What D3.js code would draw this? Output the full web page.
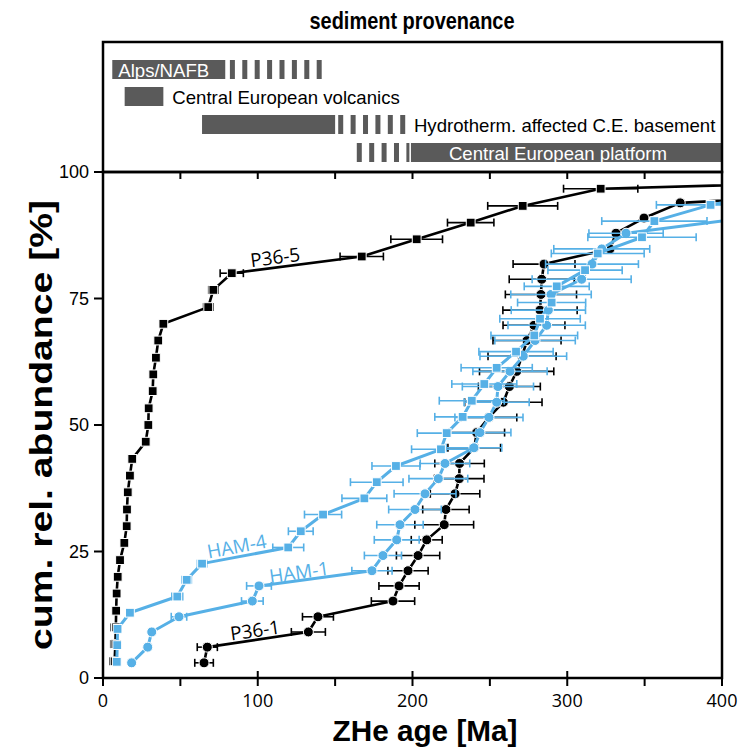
<!DOCTYPE html>
<html><head><meta charset="utf-8">
<script src="https://cdn.jsdelivr.net/npm/d3@7"></script>
<style>body{margin:0;background:#fff}</style>
</head><body>
<script>
// ---------- data ----------
const xTicks = [0, 100, 200, 300, 400];
const yTicks = [0, 25, 50, 75, 100];

// P36-5 (n=30)
const p365Pct = [3.3,6.7,10,13.3,16.7,20,23.3,26.7,30,33.3,36.7,40,43.3,46.7,50,53.3,56.7,60,63.3,66.7,70,73.3,76.7,80,83.3,86.7,90,93.3,96.7,100];
const p365Age = [7.5,8,8.3,8.5,8.8,9.5,11,13.8,15.3,15.5,16,17.4,18.9,27.6,29.3,29.5,32.1,32.5,34.2,35.7,39,68,71.3,83.2,167.2,202.7,237.6,271.2,321.6,720];
const p365Err = [3,3,3,0,0,0,0,0,0,0,0,0,0,0,0,0,0,0,0,0,0,3,3,7.5,14,16.7,15,22.6,24,0];

// HAM-4 (n=31)
const ham4Pct = [3.2,6.5,9.7,12.9,16.1,19.4,22.6,25.8,29.0,32.3,35.5,38.7,41.9,45.2,48.4,51.6,54.8,58.1,61.3,64.5,67.7,71.0,74.2,77.4,80.6,83.9,87.1,90.3,93.5,96.8,100];
const ham4Age = [8.9,9.2,9.4,17.4,48.0,54.1,64.0,119.7,127.8,142.2,168.9,176.9,189.3,218.4,222.1,232.4,238.3,246.4,254.4,266.9,278.7,282.4,289.9,293.2,311.5,319.7,348.3,356.3,392.6,450,600];
const ham4Err = [0,0,0,2,3.5,3,3,10,8,12,14.5,17,15.5,19,19,18,21,21,23,24,28,26,22,21,24,30,35,34,35,0,0];

// HAM-1 (n=33)
const ham1Pct = [3.0,6.1,9.1,12.1,15.2,18.2,21.2,24.2,27.3,30.3,33.3,36.4,39.4,42.4,45.5,48.5,51.5,54.5,57.6,60.6,63.6,66.7,69.7,72.7,75.8,78.8,81.8,84.8,87.9,90.9,93.9,97.0,100];
const ham1Age = [18.5,28.9,31.5,49.1,96.5,100.8,173.8,180.9,189.8,191.9,201.6,208.1,216.7,221.0,239.7,243.6,249.4,254.4,255.2,263.0,271.6,279.2,286.7,287.8,289.5,309.3,316.0,322.3,338.0,415,480,560,700];
const ham1Err = [0,0,0,5,7,8,13,12,14.5,15,17,20,19,16,18,20,22,21,23,24,28,26,25,24,26,32,30,31,24,0,0,0,0];

// P36-1 (n=33)
const p361Pct = [3.0,6.1,9.1,12.1,15.2,18.2,21.2,24.2,27.3,30.3,33.3,36.4,39.4,42.4,45.5,48.5,51.5,54.5,57.6,60.6,63.6,66.7,69.7,72.7,75.8,78.8,81.8,84.8,87.9,90.9,93.9,97.0,100];
const p361Age = [65.3,67.4,132.7,138.9,187.4,191.3,197.1,203.6,209.2,220.5,221.6,227.5,230.2,230.4,239.9,241.5,249.4,258.7,262.6,267.3,270.8,274.0,278.5,282.4,283.0,283.5,285.0,327.6,331.5,349.6,373.0,560,700];
const p361Err = [6,6.5,11,10,14,13,13,14,10,19,15,16,16,16,17,18,18,25,20,24,22,22,20,24,23,21,20,0,0,0,0,0,0];

// provenance bars (ages, Ma)
const provNames  = ["Alps/NAFB", "Central European volcanics", "Hydrotherm. affected C.E. basement", "Central European platform"];
const provSolid  = [[6, 79], [14, 39], [64, 150], [199, 400]];
const provDashed = [[82, 142], null, [152, 199], [164, 198]];

// ---------- drawing ----------
const W = 742, H = 747;
const x = d3.scaleLinear().domain([0, 400]).range([103, 722]);
const y = d3.scaleLinear().domain([0, 100]).range([678, 172]);
const BLUE = "#56B0E6";
const GRAY = "#5a5a5a";
const ARIAL = "'Liberation Sans', Arial, sans-serif";
const OPEN = "'Open Sans', 'DejaVu Sans', sans-serif";

const svg = d3.select("body").append("svg").attr("width", W).attr("height", H)
  .style("font-family", ARIAL);

svg.append("defs").append("clipPath").attr("id", "clip")
  .append("rect").attr("x", 103).attr("y", 172).attr("width", 619).attr("height", 506);

// title
svg.append("text").attr("x", 412).attr("y", 29).attr("text-anchor", "middle")
  .style("font-weight", "bold").style("font-size", "24px")
  .attr("textLength", 205).attr("lengthAdjust", "spacingAndGlyphs").text("sediment provenance");

// top panel
const rowTop = [60, 87, 115, 143], rowH = 19;
const topG = svg.append("g");
provSolid.forEach((s, i) => {
  topG.append("rect").attr("x", x(s[0])).attr("y", rowTop[i]).attr("width", x(s[1]) - x(s[0])).attr("height", rowH).attr("fill", GRAY);
  const d = provDashed[i];
  if (d) {
    topG.append("line").attr("x1", x(d[0])).attr("x2", x(d[1])).attr("y1", rowTop[i] + rowH / 2).attr("y2", rowTop[i] + rowH / 2)
      .attr("stroke", GRAY).attr("stroke-width", rowH).attr("stroke-dasharray", "5 7.4");
  }
});
const lblStyle = (t) => t.style("font-size", "18.6px").attr("dominant-baseline", "central");
lblStyle(topG.append("text").attr("x", x(provSolid[0][0]) + 6).attr("y", rowTop[0] + rowH / 2 + 1).attr("fill", "#fff").text(provNames[0]));
lblStyle(topG.append("text").attr("x", x(provSolid[1][1]) + 9).attr("y", rowTop[1] + rowH / 2 + 1).attr("fill", "#000").text(provNames[1]));
lblStyle(topG.append("text").attr("x", x(provDashed[2][1]) + 3).attr("y", rowTop[2] + rowH / 2 + 1).attr("fill", "#000").text(provNames[2]));
lblStyle(topG.append("text").attr("x", x(provSolid[3][0]) + 38).attr("y", rowTop[3] + rowH / 2 + 1).attr("fill", "#fff").text(provNames[3]));
topG.append("rect").attr("x", 103).attr("y", 42).attr("width", 619).attr("height", 130)
  .attr("fill", "none").attr("stroke", "#000").attr("stroke-width", 2.5);

// series
const plot = svg.append("g");
function drawSeries(ages, pcts, errs, color, shape, lw) {
  const pts = ages.map((a, i) => ({ a, p: pcts[i], e: errs[i] }));
  const g = plot.append("g").attr("clip-path", "url(#clip)");
  const eb = pts.filter(d => d.e > 0);
  g.selectAll(".eb").data(eb).enter().append("line")
    .attr("x1", d => x(d.a - d.e)).attr("x2", d => x(d.a + d.e)).attr("y1", d => y(d.p)).attr("y2", d => y(d.p))
    .attr("stroke", color).attr("stroke-width", 1.6);
  ["l", "r"].forEach(side => {
    g.selectAll(".cap" + side).data(eb).enter().append("line")
      .attr("x1", d => x(side === "l" ? d.a - d.e : d.a + d.e)).attr("x2", d => x(side === "l" ? d.a - d.e : d.a + d.e))
      .attr("y1", d => y(d.p) - 4).attr("y2", d => y(d.p) + 4)
      .attr("stroke", color).attr("stroke-width", 1.6);
  });
  g.append("path").datum(pts).attr("d", d3.line().x(d => x(d.a)).y(d => y(d.p)))
    .attr("fill", "none").attr("stroke", color).attr("stroke-width", lw).attr("stroke-linejoin", "round");
  if (shape === "square") {
    g.selectAll(".m").data(pts).enter().append("rect")
      .attr("x", d => x(d.a) - 4.4).attr("y", d => y(d.p) - 4.4).attr("width", 8.8).attr("height", 8.8)
      .attr("fill", color).attr("stroke", "#fff").attr("stroke-width", 1);
  } else {
    g.selectAll(".m").data(pts).enter().append("circle")
      .attr("cx", d => x(d.a)).attr("cy", d => y(d.p)).attr("r", 5)
      .attr("fill", color).attr("stroke", "#fff").attr("stroke-width", 1);
  }
}
drawSeries(p365Age, p365Pct, p365Err, "#000", "square", 2.6);
drawSeries(p361Age, p361Pct, p361Err, "#000", "circle", 2.6);
drawSeries(ham1Age, ham1Pct, ham1Err, BLUE, "circle", 3);
drawSeries(ham4Age, ham4Pct, ham4Err, BLUE, "square", 3);

// series labels
function seriesLabel(txt, cx, cy, ang, color) {
  svg.append("text").attr("transform", `translate(${cx},${cy}) rotate(${ang})`)
    .attr("text-anchor", "middle").style("font-family", OPEN).style("font-size", "19px")
    .attr("fill", color).text(txt);
}
seriesLabel("P36-5", 276, 264, -7.3, "#000");
seriesLabel("HAM-4", 238, 553, -10.5, BLUE);
seriesLabel("HAM-1", 300, 579, -8, BLUE);
seriesLabel("P36-1", 256, 637, -8, "#000");

// frame
svg.append("rect").attr("x", 103).attr("y", 172).attr("width", 619).attr("height", 506)
  .attr("fill", "none").attr("stroke", "#000").attr("stroke-width", 2.5);

// axes ticks
const ax = svg.append("g").attr("stroke", "#000").attr("stroke-width", 2);
yTicks.forEach(t => ax.append("line").attr("x1", 94).attr("x2", 103).attr("y1", y(t)).attr("y2", y(t)));
d3.range(0, 401, 50).forEach(t => {
  const major = t % 100 === 0;
  ax.append("line").attr("x1", x(t)).attr("x2", x(t)).attr("y1", major ? 671 : 678).attr("y2", 686);
  if (t > 0 && t < 400) ax.append("line").attr("x1", x(t)).attr("x2", x(t)).attr("y1", 172).attr("y2", 179);
});
svg.selectAll(".yl").data(yTicks).enter().append("text")
  .attr("x", 89).attr("y", d => y(d)).attr("text-anchor", "end").attr("dominant-baseline", "central")
  .style("font-size", "18px").text(d => d);
svg.selectAll(".xl").data(xTicks).enter().append("text")
  .attr("x", d => x(d)).attr("y", 707).attr("text-anchor", "middle")
  .style("font-family", OPEN).style("font-size", "18px").text(d => d);

// axis titles
svg.append("text").attr("x", 425).attr("y", 741).attr("text-anchor", "middle")
  .style("font-weight", "bold").style("font-size", "30px")
  .attr("textLength", 185).attr("lengthAdjust", "spacingAndGlyphs").text("ZHe age [Ma]");
svg.append("text").attr("transform", "translate(52,425) rotate(-90)").attr("text-anchor", "middle")
  .style("font-weight", "bold").style("font-size", "31px")
  .attr("textLength", 450).attr("lengthAdjust", "spacingAndGlyphs").text("cum. rel. abundance [%]");
</script>
</body></html>
